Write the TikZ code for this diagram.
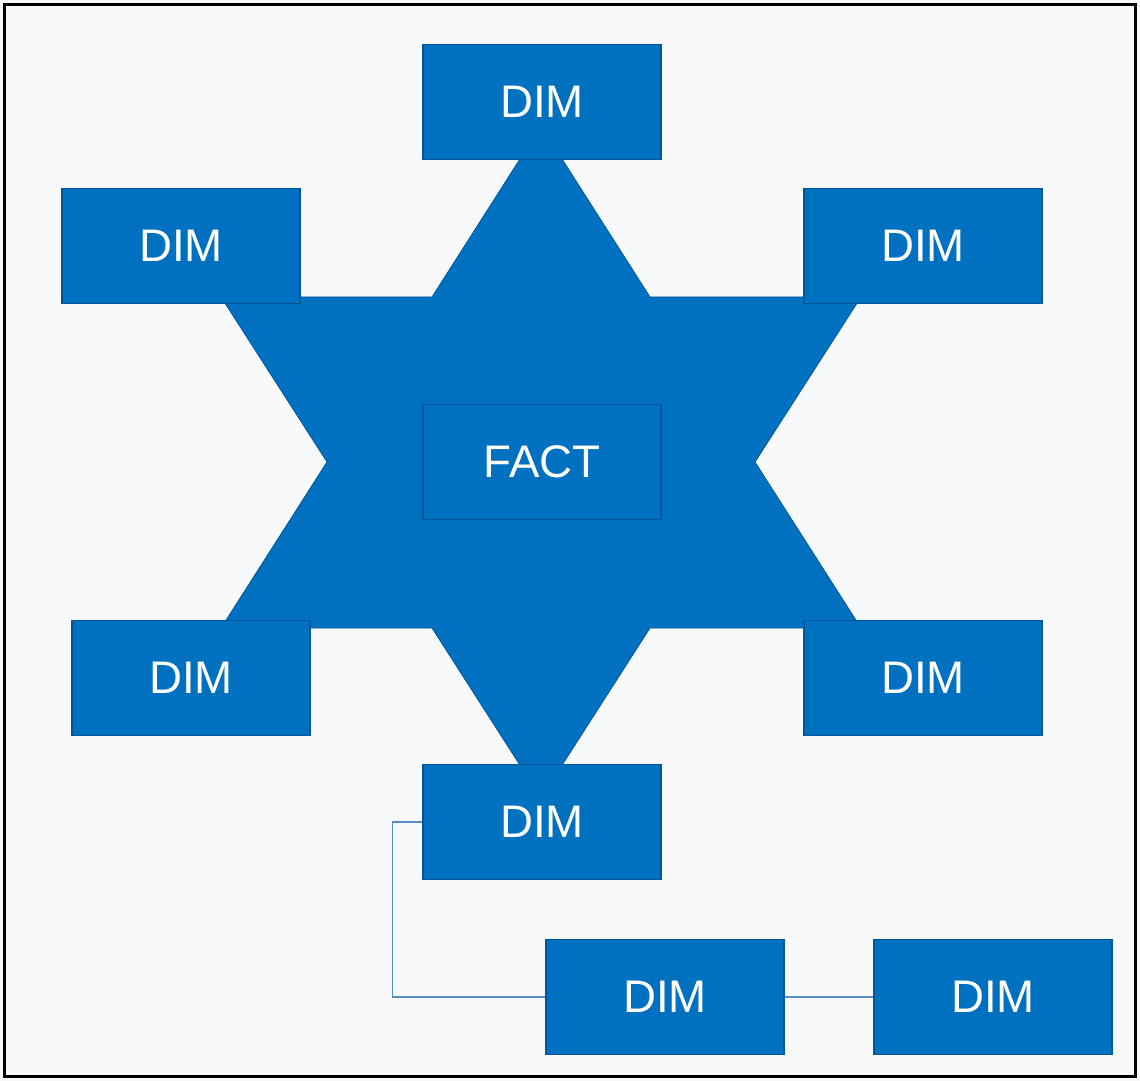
\documentclass[tikz,border=0pt]{standalone}
\usepackage{fontspec}
\setmainfont{Liberation Sans}
\definecolor{dimblue}{RGB}{0,112,192}
\definecolor{dimedge}{RGB}{0,86,150}
\definecolor{linkblue}{RGB}{84,142,200}
\definecolor{pagegray}{RGB}{248,249,250}
\tikzset{
  dimbox/.style={draw=dimedge, fill=dimblue, line width=0.03cm,
    minimum width=4.76cm, minimum height=2.3cm, inner sep=0pt,
    text=white, font=\fontsize{26}{30}\selectfont},
  factbox/.style={dimbox, fill=dimblue},
  link/.style={draw=linkblue, line width=0.025cm}
}
\begin{document}
\begin{tikzpicture}[x=0.02cm,y=-0.02cm]
  % page and frame
  \useasboundingbox (0,0) rectangle (1140,1081);
  \fill[pagegray] (0,0) rectangle (1140,1081);
  \draw[line width=0.06cm] (4.5,4.5) rectangle (1135.5,1076.5);

  % star behind the tables
  \filldraw[fill=dimblue, draw=dimedge, line width=0.015cm]
    (541,126) -- (650,297) -- (861,297) -- (755,462) -- (861,628) -- (650,628)
    -- (541,798) -- (432,628) -- (221,628) -- (327,462) -- (221,297) -- (432,297) -- cycle;

  % fact table
  \node[factbox] (fact) at (542,462) {FACT};

  % dimension tables
  \node[dimbox] (dimN) at (542,102) {DIM};
  \node[dimbox] (dimNW) at (181,246) {DIM};
  \node[dimbox] (dimNE) at (923,246) {DIM};
  \node[dimbox] (dimSW) at (191,678) {DIM};
  \node[dimbox] (dimSE) at (923,678) {DIM};
  \node[dimbox] (dimS) at (542,822) {DIM};

  % snowflake branch
  \node[dimbox] (dimA) at (665,997) {DIM};
  \node[dimbox] (dimB) at (993,997) {DIM};
  \draw[link] (dimS.west) -- +(-30,0) |- (dimA.west);
  \draw[link] (dimA) -- (dimB);
\end{tikzpicture}
\end{document}
